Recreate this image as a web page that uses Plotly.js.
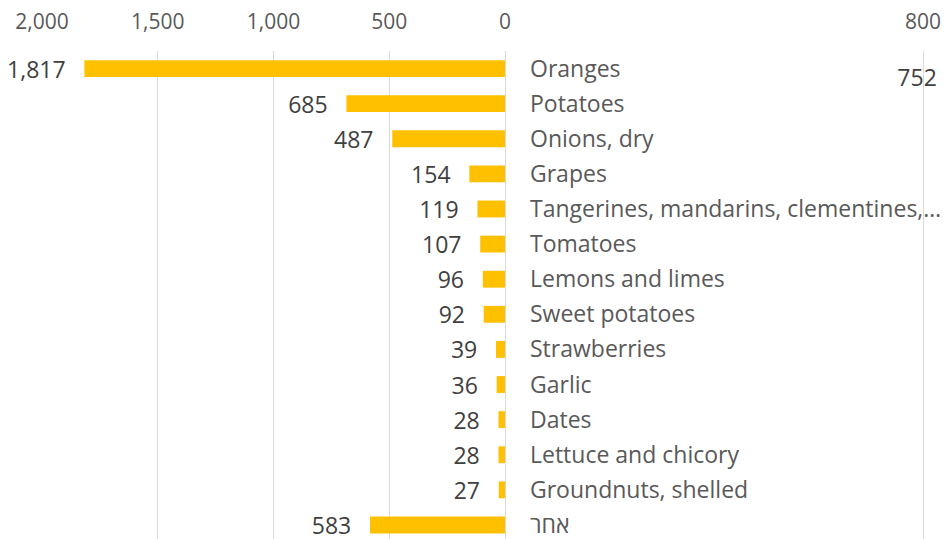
<!DOCTYPE html>
<html>
<head>
<meta charset="utf-8">
<script src="https://cdn.plot.ly/plotly-3.0.1.min.js"></script>
<style>
html,body{margin:0;padding:0;overflow:hidden;background:#fff;}
#chart{width:946px;height:539px;}
</style>
</head>
<body>
<div id="chart"></div>
<script>
const categories = ["Oranges","Potatoes","Onions, dry","Grapes","Tangerines, mandarins, clementines,\u2026","Tomatoes","Lemons and limes","Sweet potatoes","Strawberries","Garlic","Dates","Lettuce and chicory","Groundnuts, shelled","\u05d0\u05d7\u05e8"];
const values = [1817,685,487,154,119,107,96,92,39,36,28,28,27,583];
const mainTicks = [2000,1500,1000,500,0];
const mainTickText = ["2,000","1,500","1,000","500","0"];
const sideCategory = ["Oranges"];
const sideValues = [752];
const sideTicks = [800];

const fontFam = "'Open Sans', 'DejaVu Sans', sans-serif";
const gapText = "\u00a0\u00a0\u2009";

const traces = [
  {
    type: 'bar',
    orientation: 'h',
    y: categories,
    x: values,
    marker: {color: '#FFC000'},
    text: values.map(v => v.toLocaleString('en-US') + gapText),
    textposition: 'outside',
    cliponaxis: false,
    constraintext: 'none',
    textfont: {family: fontFam, size: 23, color: '#404040'},
    hoverinfo: 'none',
    xaxis: 'x', yaxis: 'y'
  },
  {
    type: 'scatter',
    mode: 'text',
    y: sideCategory,
    x: sideValues,
    text: sideValues.map(String),
    textposition: 'bottom center',
    textfont: {family: fontFam, size: 23, color: '#404040'},
    cliponaxis: false,
    hoverinfo: 'none',
    xaxis: 'x2', yaxis: 'y'
  }
];

const layout = {
  width: 946, height: 539,
  margin: {l: 0, r: 0, t: 51, b: 0},
  paper_bgcolor: '#ffffff', plot_bgcolor: 'rgba(0,0,0,0)',
  showlegend: false,
  bargap: 0.52,
  font: {family: fontFam, color: '#595959'},
  xaxis: {
    domain: [42/946, 505/946],
    range: [2000, 0],
    side: 'top',
    tickmode: 'array', tickvals: mainTicks, ticktext: mainTickText,
    tickfont: {family: fontFam, size: 21, color: '#595959'},
    showgrid: true, gridcolor: '#D9D9D9', gridwidth: 1,
    zeroline: true, zerolinecolor: '#D9D9D9', zerolinewidth: 1,
    showline: false, ticks: '', ticklabelstandoff: 17,
    anchor: 'y'
  },
  xaxis2: {
    domain: [0.9, 1],
    range: [223, 985],
    side: 'top',
    tickmode: 'array', tickvals: sideTicks,
    tickfont: {family: fontFam, size: 21, color: '#595959'},
    showgrid: true, gridcolor: '#D9D9D9', gridwidth: 1,
    zeroline: false, showline: false, ticks: '', ticklabelstandoff: 17,
    anchor: 'y'
  },
  yaxis: {
    type: 'category',
    range: [13.4, -0.5],
    side: 'right',
    anchor: 'x',
    showgrid: false, zeroline: false, showline: false, ticks: '',
    ticklabelstandoff: 24,
    tickfont: {family: fontFam, size: 23, color: '#595959'}
  }
};

Plotly.newPlot('chart', traces, layout, {staticPlot: true, displayModeBar: false});
</script>
</body>
</html>
